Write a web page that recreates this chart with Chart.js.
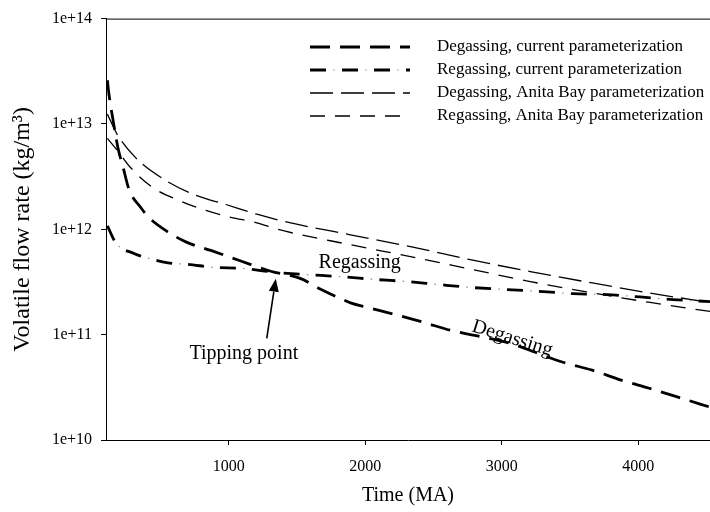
<!DOCTYPE html>
<html>
<head>
<meta charset="utf-8">
<script src="https://cdn.jsdelivr.net/npm/chart.js@4.4.1/dist/chart.umd.min.js"></script>
<style>
  html, body { margin: 0; padding: 0; background: #fff; overflow: hidden; }
  #wrap { position: relative; width: 710px; height: 512px; }
</style>
</head>
<body>
<div id="wrap"><canvas id="c" width="710" height="512"></canvas></div>
<script>
// Series names as shown in the key
const seriesNames = [
  'Degassing, current parameterization',
  'Regassing, current parameterization',
  'Degassing, Anita Bay parameterization',
  'Regassing, Anita Bay parameterization'
];

// Time (MA) and volatile flow rate (kg/m^3) for each series
const degCurrentTime = [110, 122, 151, 188, 225, 268, 356, 415, 539, 685, 868, 1088, 1307, 1527, 1673, 1819, 1892, 2024, 2222, 2426, 2624, 2843, 3085, 3246, 3443, 3663, 3875, 4080, 4292, 4526];
const degCurrentRate = [2.6e13, 1.9e13, 1.1e13, 5.9e12, 3.9e12, 2.4e12, 1.6e12, 1.29e12, 9.7e11, 7.6e11, 6.3e11, 5.0e11, 4.0e11, 3.4e11, 2.7e11, 2.2e11, 2.0e11, 1.8e11, 1.55e11, 1.31e11, 1.10e11, 9.6e10, 8.1e10, 6.8e10, 5.5e10, 4.6e10, 3.7e10, 3.1e10, 2.55e10, 2.05e10];

const regCurrentTime = [110, 173, 305, 415, 554, 700, 890, 1100, 1344, 1563, 1805, 2090, 2309, 2536, 2785, 3041, 3304, 3524, 3772, 4014, 4255, 4526];
const regCurrentRate = [1.08e12, 7.4e11, 5.9e11, 5.3e11, 4.8e11, 4.65e11, 4.35e11, 4.25e11, 3.9e11, 3.72e11, 3.56e11, 3.33e11, 3.19e11, 2.99e11, 2.8e11, 2.68e11, 2.56e11, 2.45e11, 2.4e11, 2.28e11, 2.15e11, 2.06e11];

const degAnitaTime = [110, 181, 320, 532, 751, 985, 1205, 1454, 1892, 2331, 2770, 3209, 3648, 4087, 4526];
const degAnitaRate = [1.24e13, 8.0e12, 4.74e12, 2.94e12, 2.12e12, 1.71e12, 1.39e12, 1.15e12, 8.87e11, 6.84e11, 5.15e11, 3.97e11, 3.12e11, 2.48e11, 2.02e11];

const regAnitaTime = [110, 188, 276, 437, 634, 832, 1015, 1198, 1358, 1892, 2331, 2770, 3209, 3648, 4087, 4526];
const regAnitaRate = [7.3e12, 5.5e12, 3.9e12, 2.52e12, 1.88e12, 1.51e12, 1.30e12, 1.16e12, 1.0e12, 7.13e11, 5.5e11, 4.19e11, 3.19e11, 2.51e11, 2.02e11, 1.66e11];

// Axis ticks
const xTickValues = [1000, 2000, 3000, 4000];
const yTickValues = [1e10, 1e11, 1e12, 1e13, 1e14];
const yTickLabels = ['1e+10', '1e+11', '1e+12', '1e+13', '1e+14'];

// Callouts on the plot
const tippingPoint = [1344, 3.4e11];
const calloutTexts = ['Regassing', 'Degassing', 'Tipping point'];

const SERIF = '"Liberation Serif", "Times New Roman", serif';
const INK = '#000';

const toPoints = (xs, ys) => xs.map((x, i) => ({ x: x, y: ys[i] }));

const datasets = [
  { label: seriesNames[0], data: toPoints(degCurrentTime, degCurrentRate),
    borderColor: INK, borderWidth: 2.8, borderDash: [20, 10], keyRow: 0 },
  { label: seriesNames[1], data: toPoints(regCurrentTime, regCurrentRate),
    borderColor: INK, borderWidth: 2.8, borderDash: [16, 16], keyRow: 1 },
  { label: '', data: toPoints(regCurrentTime, regCurrentRate),
    borderColor: '#8a8a8a', borderWidth: 1.2, borderDash: [1.5, 30.5], borderDashOffset: 8.75, keyRow: 1 },
  { label: seriesNames[2], data: toPoints(degAnitaTime, degAnitaRate),
    borderColor: INK, borderWidth: 1.3, borderDash: [23, 8], keyRow: 2 },
  { label: seriesNames[3], data: toPoints(regAnitaTime, regAnitaRate),
    borderColor: INK, borderWidth: 1.3, borderDash: [15, 10], keyRow: 3 }
];
datasets.forEach(d => {
  d.fill = false;
  d.pointRadius = 0;
  d.cubicInterpolationMode = 'monotone';
  d.borderCapStyle = 'butt';
});

// Key in the upper right of the plot
const seriesKey = {
  id: 'seriesKey',
  afterDraw(chart) {
    const ctx = chart.ctx;
    ctx.save();
    chart.data.datasets.forEach(ds => {
      const y = 47 + ds.keyRow * 23;
      ctx.beginPath();
      ctx.setLineDash(ds.borderDash || []);
      ctx.lineDashOffset = ds.borderDashOffset || 0;
      ctx.lineWidth = ds.borderWidth;
      ctx.strokeStyle = ds.borderColor;
      ctx.moveTo(310, y);
      ctx.lineTo(410, y);
      ctx.stroke();
      if (ds.label) {
        ctx.setLineDash([]);
        ctx.fillStyle = INK;
        ctx.font = '17px ' + SERIF;
        ctx.textBaseline = 'middle';
        ctx.textAlign = 'left';
        ctx.fillText(ds.label, 437, y);
      }
    });
    ctx.restore();
  }
};

// Top frame line, curve labels and the tipping point arrow
const callouts = {
  id: 'callouts',
  afterDraw(chart) {
    const { ctx, chartArea } = chart;
    const xs = chart.scales.x, ys = chart.scales.y;
    ctx.save();
    ctx.strokeStyle = INK;
    ctx.lineWidth = 1;
    ctx.setLineDash([]);
    ctx.beginPath();
    ctx.moveTo(chartArea.left, chartArea.top + 0.5);
    ctx.lineTo(chartArea.right, chartArea.top + 0.5);
    ctx.stroke();

    ctx.fillStyle = INK;
    ctx.font = '20px ' + SERIF;
    ctx.textAlign = 'center';
    ctx.textBaseline = 'middle';
    ctx.fillText(calloutTexts[0], xs.getPixelForValue(1959), ys.getPixelForValue(4.8e11));
    ctx.fillText(calloutTexts[2], xs.getPixelForValue(1110), ys.getPixelForValue(6.6e10));

    ctx.save();
    ctx.translate(xs.getPixelForValue(3077), ys.getPixelForValue(9.2e10));
    ctx.rotate(17.5 * Math.PI / 180);
    ctx.fillText(calloutTexts[1], 0, 0);
    ctx.restore();

    // arrow
    const tx = xs.getPixelForValue(tippingPoint[0]);
    const ty = ys.getPixelForValue(tippingPoint[1]);
    const bx = xs.getPixelForValue(1278);
    const by = ys.getPixelForValue(9.2e10);
    const ang = Math.atan2(ty - by, tx - bx);
    const headLen = 13, headHalf = 5;
    const hx = tx - headLen * Math.cos(ang), hy = ty - headLen * Math.sin(ang);
    ctx.lineWidth = 1.6;
    ctx.beginPath();
    ctx.moveTo(bx, by);
    ctx.lineTo(hx, hy);
    ctx.stroke();
    ctx.beginPath();
    ctx.moveTo(tx, ty);
    ctx.lineTo(hx + headHalf * Math.sin(ang), hy - headHalf * Math.cos(ang));
    ctx.lineTo(hx - headHalf * Math.sin(ang), hy + headHalf * Math.cos(ang));
    ctx.closePath();
    ctx.fill();
    ctx.restore();
  }
};

new Chart(document.getElementById('c'), {
  type: 'line',
  data: { datasets: datasets },
  plugins: [seriesKey, callouts],
  options: {
    responsive: false,
    animation: false,
    devicePixelRatio: 1,
    layout: { padding: { top: 17, right: 0, bottom: 0, left: 0 } },
    plugins: { legend: { display: false }, tooltip: { enabled: false } },
    scales: {
      x: {
        type: 'linear',
        min: 100,
        max: 4526,
        afterBuildTicks: s => { s.ticks = xTickValues.map(v => ({ value: v })); },
        afterFit: s => { s.height = 72; },
        grid: { drawOnChartArea: false, color: INK, tickLength: 5 },
        border: { color: INK, width: 1 },
        ticks: { color: INK, font: { family: SERIF, size: 16 }, padding: 12, autoSkip: false, maxRotation: 0,
                 callback: v => String(v) },
        title: { display: true, text: 'Time (MA)', color: INK, font: { family: SERIF, size: 20 }, padding: { top: 0, bottom: 4 } }
      },
      y: {
        type: 'logarithmic',
        min: 1e10,
        max: 1e14,
        afterBuildTicks: s => { s.ticks = yTickValues.map(v => ({ value: v })); },
        afterFit: s => { s.width = 106; },
        grid: { drawOnChartArea: false, color: INK, tickLength: 5 },
        border: { color: INK, width: 1 },
        ticks: { color: INK, font: { family: SERIF, size: 16 }, padding: 9, autoSkip: false,
                 callback: v => yTickLabels[yTickValues.indexOf(v)] },
        title: { display: true, text: 'Volatile flow rate (kg/m\u00B3)', color: INK, font: { family: SERIF, size: 24 }, padding: { top: 8, bottom: 0 } }
      }
    }
  }
});
</script>
</body>
</html>
